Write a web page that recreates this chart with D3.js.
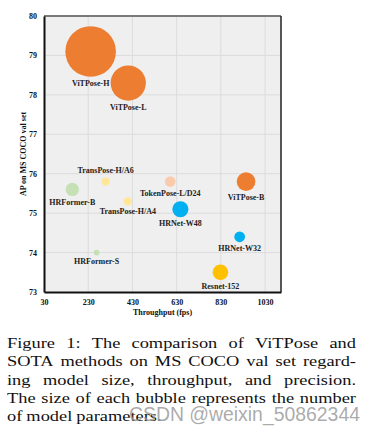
<!DOCTYPE html>
<html>
<head>
<meta charset="utf-8">
<script src="https://cdn.jsdelivr.net/npm/d3@7"></script>
<style>
  html, body { margin: 0; padding: 0; background: #fff; }
  svg { display: block; }
</style>
</head>
<body>
<div id="chart"></div>
<script>
document.addEventListener('DOMContentLoaded', function() {

    // model names, throughput (fps), AP, params (M)
    const models = ["ViTPose-H", "ViTPose-L", "ViTPose-B", "HRFormer-B", "HRFormer-S",
                    "TransPose-H/A6", "TransPose-H/A4", "TokenPose-L/D24", "HRNet-W48", "HRNet-W32", "Resnet-152"];
    const throughput = [241, 411, 944, 158, 268, 309, 409, 601, 647, 915, 828];
    const ap = [79.1, 78.3, 75.8, 75.6, 74.0, 75.8, 75.3, 75.8, 75.1, 74.4, 73.5];
    const params = [632, 307, 86, 43.2, 7.8, 17.5, 17.3, 27.5, 63.6, 28.5, 60];
    const family = ["ViTPose", "ViTPose", "ViTPose", "HRFormer", "HRFormer",
                    "TransPose", "TransPose", "TokenPose", "HRNet", "HRNet", "Resnet"];

    const xTicks = [30, 230, 430, 630, 830, 1030];
    const yTicks = [73, 74, 75, 76, 77, 78, 79, 80];

    const captionLines = [
        "Figure 1: The comparison of ViTPose and",
        "SOTA methods on MS COCO val set regard-",
        "ing model size, throughput, and precision.",
        "The size of each bubble represents the number",
        "of model parameters."
    ];

    const familyColors = {
        "ViTPose": "#ED7D31",
        "HRFormer": "#C5E0B4",
        "TransPose": "#FFE699",
        "TokenPose": "#F8CBAD",
        "HRNet": "#00B0F0",
        "Resnet": "#FFC000"
    };

    // labels go below the bubble, except this one
    const labelAbove = new Set(["TransPose-H/A6"]);

    const width = 376, height = 432;
    const plot = { left: 44, right: 281, top: 16, bottom: 292 };
    const serif = "'Liberation Serif', 'Times New Roman', serif";

    const svg = d3.select("#chart")
        .append("svg")
        .attr("width", width)
        .attr("height", height);

    const x = d3.scaleLinear().domain([30, 1102]).range([plot.left, plot.right]);
    const y = d3.scaleLinear().domain([73, 80]).range([plot.bottom, plot.top]);
    const r = d3.scaleSqrt().domain([0, 632]).range([0, 25.3]);

    // plot background
    svg.append("rect")
        .attr("x", plot.left)
        .attr("y", plot.top)
        .attr("width", plot.right - plot.left)
        .attr("height", plot.bottom - plot.top)
        .attr("fill", "#EFEFEF");

    // grid
    svg.append("g")
        .selectAll("line")
        .data(xTicks.slice(1))
        .enter().append("line")
        .attr("x1", d => x(d)).attr("x2", d => x(d))
        .attr("y1", plot.top).attr("y2", plot.bottom)
        .attr("stroke", "#DCDCDC")
        .attr("stroke-width", 1);

    svg.append("g")
        .selectAll("line")
        .data(yTicks.slice(1))
        .enter().append("line")
        .attr("x1", plot.left).attr("x2", plot.right)
        .attr("y1", d => y(d)).attr("y2", d => y(d))
        .attr("stroke", "#DCDCDC")
        .attr("stroke-width", 1);

    // frame: top and right
    svg.append("line")
        .attr("x1", plot.left).attr("x2", plot.right)
        .attr("y1", plot.top).attr("y2", plot.top)
        .attr("stroke", "#555").attr("stroke-width", 1.5);
    svg.append("line")
        .attr("x1", plot.right).attr("x2", plot.right)
        .attr("y1", plot.top).attr("y2", plot.bottom)
        .attr("stroke", "#222").attr("stroke-width", 1.5);

    // axes
    const xAxis = svg.append("g")
        .attr("transform", `translate(0, ${plot.bottom})`)
        .call(d3.axisBottom(x).tickValues(xTicks).tickSize(0).tickPadding(7).tickFormat(d3.format("d")));
    const yAxis = svg.append("g")
        .attr("transform", `translate(${plot.left}, 0)`)
        .call(d3.axisLeft(y).tickValues(yTicks).tickSize(0).tickPadding(7).tickFormat(d3.format("d")));

    [xAxis, yAxis].forEach(ax => {
        ax.select(".domain").attr("stroke", "#111").attr("stroke-width", 2);
        ax.selectAll("text")
            .attr("fill", "#111")
            .style("font-family", serif)
            .style("font-weight", "bold")
            .style("font-size", "8px");
    });

    // axis titles
    svg.append("text")
        .attr("x", (plot.left + plot.right) / 2)
        .attr("y", 315)
        .attr("text-anchor", "middle")
        .attr("fill", "#111")
        .style("font-family", serif)
        .style("font-weight", "bold")
        .style("font-size", "8px")
        .text("Throughput (fps)");

    svg.append("text")
        .attr("transform", `translate(26, ${(plot.top + plot.bottom) / 2}) rotate(-90)`)
        .attr("text-anchor", "middle")
        .attr("fill", "#111")
        .style("font-family", serif)
        .style("font-weight", "bold")
        .style("font-size", "8px")
        .text("AP on MS COCO val set");

    // bubbles
    const points = models.map((m, i) => ({
        name: m, fps: throughput[i], ap: ap[i], size: params[i], family: family[i]
    }));

    const node = svg.append("g")
        .selectAll("g")
        .data(points)
        .enter().append("g")
        .attr("transform", d => `translate(${x(d.fps)}, ${y(d.ap)})`);

    node.append("circle")
        .attr("r", d => r(d.size))
        .attr("fill", d => familyColors[d.family]);

    node.append("text")
        .attr("text-anchor", "middle")
        .attr("dy", d => labelAbove.has(d.name) ? -(r(d.size) + 4) : r(d.size) + 9)
        .attr("fill", "#222")
        .style("font-family", serif)
        .style("font-weight", "bold")
        .style("font-size", "8px")
        .text(d => d.name);

    // caption, justified; the source is stretched horizontally
    const capLeft = 7, capRight = 356, capTop = 348, capLead = 18.25;
    const stretch = 1.26, capSize = 14.6;
    captionLines.forEach((line, li) => {
        const words = line.split(" ");
        const g = svg.append("g")
            .attr("transform", `translate(${capLeft}, ${capTop + li * capLead}) scale(${stretch}, 1)`);
        const texts = words.map(w => g.append("text")
            .attr("fill", "#111")
            .style("font-family", serif)
            .style("font-size", capSize + "px")
            .text(w));
        const widths = texts.map(t => t.node().getComputedTextLength());
        const span = (capRight - capLeft) / stretch;
        const last = li === captionLines.length - 1;
        const gap = last ? capSize * 0.22 : (span - d3.sum(widths)) / (words.length - 1);
        let cx = 0;
        texts.forEach((t, i) => {
            t.attr("x", cx);
            cx += widths[i] + gap;
        });
    });

    // watermark
    svg.append("text")
        .attr("x", 129)
        .attr("y", 421)
        .attr("fill", "#9C9C9C")
        .attr("fill-opacity", 0.85)
        .style("font-family", "'Liberation Sans', Arial, sans-serif")
        .style("font-size", "19.4px")
        .text("CSDN @weixin_50862344");
});
</script>
</body>
</html>
